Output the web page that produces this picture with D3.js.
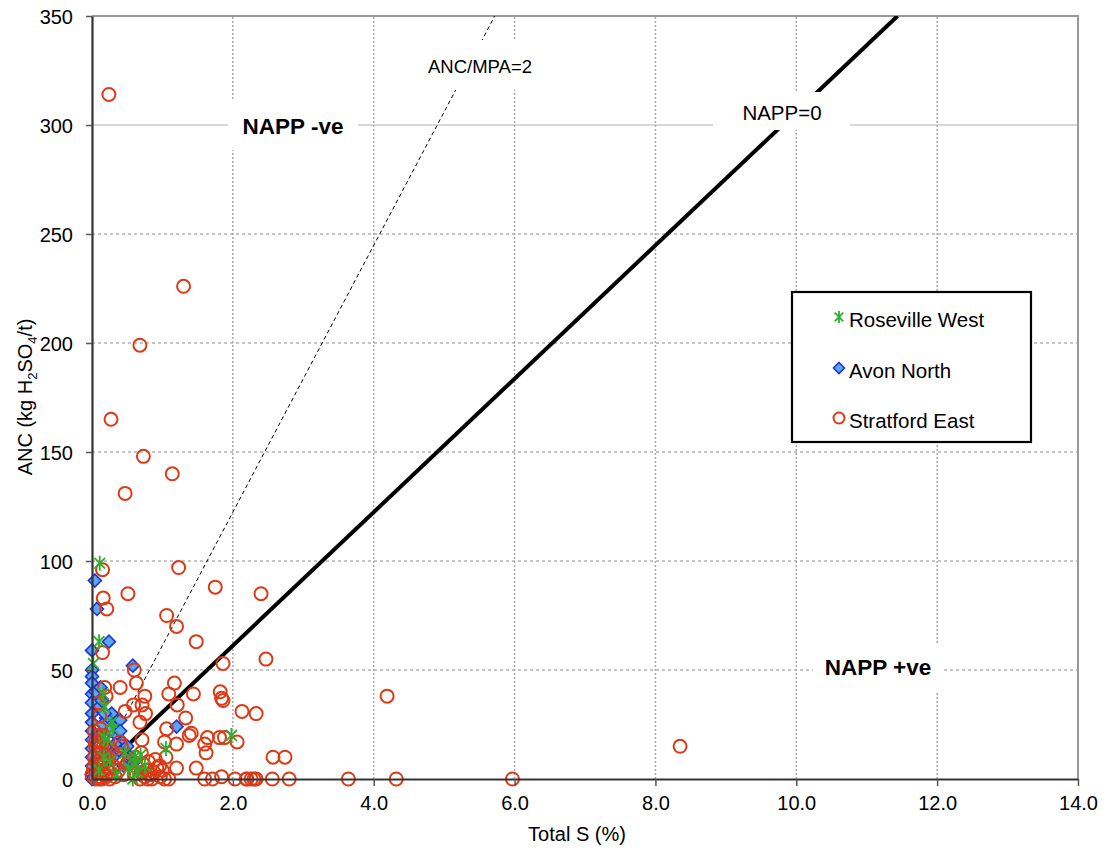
<!DOCTYPE html>
<html><head><meta charset="utf-8">
<script src="https://cdn.jsdelivr.net/npm/d3@7"></script>
<style>body{margin:0;background:#fff;font-family:"Liberation Sans",Arial,sans-serif}</style>
</head><body><svg id="c" width="1107" height="852"></svg>
<script>
// ---- data: [Total S (%), ANC (kg H2SO4/t)] ----
const xTicks = [0,2,4,6,8,10,12,14];
const yTicks = [0,50,100,150,200,250,300,350];
const seriesNames = ["Roseville West","Avon North","Stratford East"];
const roseville = [[0.11,99],[0.10,63],[0.02,53],[0.16,39],[0.18,33],[0.30,23],[0.47,12],[0.69,11],[1.05,14],[1.98,20],
 [0.17,19],[0.28,26],[0.17,10],[0.60,10],[0.52,5],[0.65,3],[0.75,6],[0.10,4],[0.25,8],[0.35,2],[0.58,0],[0.22,18],[0.62,7]];
const avon = [[0.04,91],[0.07,78],[0.24,63],[0.0,59],[0.58,52],[0.0,50],[0.0,47],[0.0,44],[0.0,39],[0.0,35],[0.0,30],[0.0,26],
 [0.0,22],[0.0,18],[0.0,14],[0.0,10],[0.0,6],[0.0,2],[0.0,0],[1.20,24],[0.10,33],[0.14,36],[0.28,30],[0.30,24],[0.40,27],
 [0.35,20],[0.20,28],[0.25,22],[0.15,25],[0.42,17],[0.38,13],[0.50,15],[0.55,10],[0.45,6],[0.60,8],[0.30,10],[0.20,15],
 [0.10,20],[0.08,12],[0.05,40],[0.12,42],[0.18,30],[0.40,22],[0.33,16]];
const stratford = [[0.24,314],[1.30,226],[0.68,199],[0.27,165],[0.73,148],[1.14,140],[0.47,131],[1.23,97],[0.15,96],[1.75,88],
 [2.40,85],[0.51,85],[0.16,83],[0.21,78],[1.06,75],[1.20,70],[1.48,63],[0.15,58],[2.47,55],[1.86,53],[0.60,50],[0.63,44],
 [1.17,44],[0.40,42],[0.18,42],[0.75,38],[1.09,39],[1.44,39],[1.82,40],[1.84,37],[1.86,36],[4.19,38],[0.10,35],[0.20,38],
 [0.59,34],[0.71,34],[1.21,34],[0.76,30],[2.13,31],[2.33,30],[0.11,29],[0.47,31],[1.33,28],[0.68,26],[1.06,23],[1.38,20],
 [1.41,21],[1.64,19],[1.81,19],[1.88,19],[2.06,17],[1.20,16],[1.60,16],[1.62,12],[1.03,17],[0.71,18],[0.40,17],[8.35,15],
 [2.57,10],[2.74,10],[1.05,10],[1.20,5],[1.48,5],[0.96,6],
 [0.79,0],[1.03,0],[1.09,0],[1.60,0],[1.71,0],[1.84,1],[2.03,0],[2.19,0],[2.20,0],[2.26,0],[2.30,0],[2.33,0],[2.56,0],
 [2.80,0],[3.64,0],[4.32,0],[5.97,0],
 [0.60,2],[0.65,5],[0.68,0],[0.70,3],[0.72,7],[0.75,1],[0.78,4],[0.80,8],[0.82,2],[0.85,0],[0.88,3],[0.92,5],[0.97,1],
 [1.00,4],[0.55,8],[0.62,10],[0.70,12],[0.90,9],
 [0.00,2],[0.02,5],[0.03,10],[0.05,0],[0.05,15],[0.06,8],[0.08,20],[0.08,3],[0.09,12],[0.10,6],[0.11,17],[0.12,1],
 [0.13,9],[0.14,14],[0.15,4],[0.16,20],[0.17,7],[0.18,11],[0.19,2],[0.20,15],[0.22,5],[0.24,9],[0.26,3],[0.28,13],
 [0.30,6],[0.33,1],[0.35,10],[0.38,4],[0.42,15],[0.45,2],[0.50,7],[0.10,0],
 [0.14,0],[0.20,1],[0.25,0],[0.05,17],[0.03,22],[0.12,23]];
const mpaFactor = 30.6; // kg H2SO4/t per %S
const refLines = [{name:"NAPP=0", ratio:1},{name:"ANC/MPA=2", ratio:2}];

// ---- chart ----
const svg = d3.select("#c");
const x = d3.scaleLinear().domain([0,14]).range([92,1078]);
const y = d3.scaleLinear().domain([0,350]).range([779,16]);
const FONT = '"Liberation Sans",Arial,sans-serif';

// gridlines
svg.append("g").selectAll("line").data(yTicks.filter(d=>d>0&&d<350)).join("line")
  .attr("x1",x(0)).attr("x2",x(14)).attr("y1",d=>y(d)).attr("y2",d=>y(d))
  .attr("stroke",d=>d===300?"#b0b0b0":"#8c8c8c").attr("stroke-width",1)
  .attr("stroke-dasharray",d=>d===300?null:"3,3");
svg.append("g").selectAll("line").data(xTicks.filter(d=>d>0&&d<14)).join("line")
  .attr("y1",y(0)).attr("y2",y(350)).attr("x1",d=>x(d)).attr("x2",d=>x(d))
  .attr("stroke","#a8a8a8").attr("stroke-width",1.5).attr("stroke-dasharray","2,2");

// border top/right
svg.append("path").attr("d",`M${x(0)},${y(350)}H${x(14)}V${y(0)}`).attr("fill","none").attr("stroke","#9a9a9a").attr("stroke-width",2);

// reference lines
svg.append("clipPath").attr("id","pc").append("rect")
  .attr("x",x(0)).attr("y",y(350)).attr("width",x(14)-x(0)).attr("height",y(0)-y(350));
const lineG = svg.append("g").attr("clip-path","url(#pc)");
refLines.forEach(r=>{
  const sMax = 350/(mpaFactor*r.ratio);
  lineG.append("line").attr("x1",x(0)).attr("y1",y(0)).attr("x2",x(sMax)).attr("y2",y(350))
    .attr("stroke","#000").attr("stroke-width",r.ratio===1?4:1)
    .attr("stroke-dasharray",r.ratio===1?null:"4,3");
});

// text labels with white backgrounds
function boxLabel(cx, base, txt, size, bold, bx0, by0, bx1, by1){
  svg.append("rect").attr("x",bx0).attr("y",by0).attr("width",bx1-bx0).attr("height",by1-by0).attr("fill","#fff");
  svg.append("text").attr("x",cx).attr("y",base).attr("text-anchor","middle")
    .attr("font-family",FONT).attr("font-size",size).attr("font-weight",bold?"bold":"normal").attr("fill","#000").text(txt);
}
boxLabel(480, 73, "ANC/MPA=2", 18.5, false, 418, 40, 543, 90);
boxLabel(293, 134, "NAPP -ve", 22.5, true, 228, 100, 358, 150);
boxLabel(782, 120, "NAPP=0", 20.5, false, 713, 92, 850, 130);
boxLabel(878, 675, "NAPP +ve", 22.5, true, 813, 645, 943, 692);

// markers
const RED="#dc3a16", BLUE_F="#5aa7f5", BLUE_S="#1d35d6", GREEN="#2cb12c";
function diamond(g, cx, cy, s){
  g.append("path").attr("d",`M${cx},${cy-s}L${cx+s},${cy}L${cx},${cy+s}L${cx-s},${cy}Z`)
    .attr("fill",BLUE_F).attr("stroke",BLUE_S).attr("stroke-width",1.6);
}
function star(g, cx, cy, s){
  const d = s*0.72;
  g.append("path").attr("d",`M${cx},${cy-s}V${cy+s}M${cx-d},${cy-d}L${cx+d},${cy+d}M${cx-d},${cy+d}L${cx+d},${cy-d}`)
    .attr("stroke",GREEN).attr("stroke-width",1.8).attr("fill","none");
}
function ring(g, cx, cy, r){
  g.append("circle").attr("cx",cx).attr("cy",cy).attr("r",r).attr("fill","none").attr("stroke",RED).attr("stroke-width",2);
}
const mg = svg.append("g");
avon.forEach(d=>diamond(mg, x(d[0]), y(d[1]), 6.5));
stratford.forEach(d=>ring(mg, x(d[0]), y(d[1]), 6.5));
roseville.forEach(d=>star(mg, x(d[0]), y(d[1]), 7.5));

// axes
const gx = svg.append("g").attr("transform",`translate(0,${y(0)})`)
  .call(d3.axisBottom(x).tickValues(xTicks).tickFormat(d3.format(".1f")).tickSizeInner(7).tickSizeOuter(0).tickPadding(10));
const gy = svg.append("g").attr("transform",`translate(${x(0)},0)`)
  .call(d3.axisLeft(y).tickValues(yTicks).tickFormat(d3.format("d")).tickSizeInner(6).tickSizeOuter(0).tickPadding(13));
[gx,gy].forEach(g=>{
  g.select(".domain").attr("stroke","#333").attr("stroke-width",2.2);
  g.selectAll(".tick line").attr("stroke","#555").attr("stroke-width",1.5);
  g.selectAll(".tick text").attr("font-family",FONT).attr("font-size",20).attr("fill","#000");
});
gx.selectAll(".tick text").attr("dy","0.71em");
gy.selectAll(".tick text").attr("dy","0.36em");

// axis titles
svg.append("text").attr("x",577).attr("y",841).attr("text-anchor","middle")
  .attr("font-family",FONT).attr("font-size",20).text("Total S (%)");
const yt = svg.append("text").attr("transform","translate(32,397) rotate(-90)").attr("text-anchor","middle")
  .attr("font-family",FONT).attr("font-size",20);
yt.append("tspan").text("ANC (kg H");
yt.append("tspan").attr("font-size",13).attr("dy",5).text("2");
yt.append("tspan").attr("dy",-5).text("SO");
yt.append("tspan").attr("font-size",13).attr("dy",5).text("4");
yt.append("tspan").attr("dy",-5).text("/t)");

// legend
const lg = svg.append("g");
lg.append("rect").attr("x",792).attr("y",292).attr("width",239).attr("height",150)
  .attr("fill","#fff").attr("stroke","#000").attr("stroke-width",2.2);
const legY = [317,368,418];
seriesNames.forEach((n,i)=>{
  if(i===0) star(lg, 839, legY[i], 6);
  if(i===1) diamond(lg, 839, legY[i], 5.5);
  if(i===2) ring(lg, 839, legY[i], 5.5);
  lg.append("text").attr("x",849).attr("y",legY[i]+10).attr("font-family",FONT).attr("font-size",20.5).text(n);
});
</script></body></html>
